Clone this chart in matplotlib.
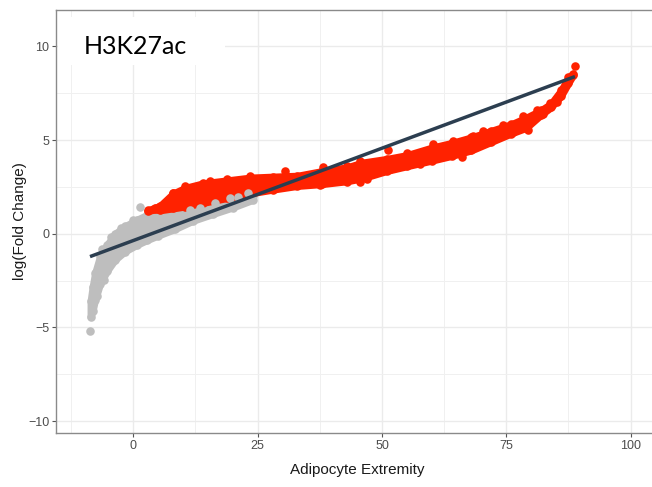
import matplotlib.pyplot as plt
from matplotlib.patches import Rectangle
from matplotlib.ticker import MultipleLocator

# grey cloud (all regions): x, lower / upper edge of point centres
grey_x = [-8.6, -8.2, -7.7, -6.7, -5.3, -3.7, -1.7, 0.7, 2.7, 5.0, 8.4, 12.1, 16.0, 20.0, 24.0]
grey_lo = [-4.45, -4.15, -3.55, -2.7, -2.0, -1.4, -0.95, -0.6, -0.35, -0.1, 0.25, 0.7, 1.05, 1.4, 1.8]
grey_hi = [-3.6, -2.85, -2.1, -1.2, -0.6, 0.0, 0.4, 0.75, 1.0, 1.3, 1.55, 1.75, 1.85, 1.9, 2.0]
grey_pts_x = [-8.7, 1.35, 11.4, 13.5, 16.4, 19.4, 21.0, 23.1, -6.2, -4.4, -2.5, 0.0, 3.5, -7.3, -5.8]
grey_pts_y = [-5.2, 1.45, 1.27, 1.4, 1.62, 1.89, 1.95, 2.16, -0.8, -0.2, 0.3, 0.75, 1.15, -3.3, -2.45]

# red cloud (enriched regions)
red_x = [2.9, 4.4, 5.4, 8.0, 10.4, 14.1, 18.8, 23.5, 28.0, 33.0, 38.0, 43.0, 46.0, 51.0,
         55.0, 60.0, 64.0, 68.0, 72.0, 76.0, 79.0, 82.0, 84.0, 86.0, 87.5, 88.4]
red_lo = [1.2, 1.3, 1.25, 1.35, 1.45, 1.65, 1.9, 2.15, 2.35, 2.55, 2.65, 2.8, 2.95, 3.35,
          3.6, 3.9, 4.15, 4.45, 4.9, 5.35, 5.65, 6.35, 6.75, 7.35, 8.05, 8.45]
red_hi = [1.25, 1.4, 1.5, 2.15, 2.45, 2.7, 2.85, 3.0, 3.05, 3.1, 3.35, 3.55, 3.8, 4.0,
          4.2, 4.6, 4.85, 5.15, 5.5, 5.85, 6.2, 6.6, 6.95, 7.65, 8.35, 8.55]
red_pts_x = [30.5, 38.2, 51.3, 79.4, 88.8, 45.6, 66.0,
             8.0, 10.4, 12.5, 15.4, 17.0, 18.8, 21.0, 23.5, 25.5, 27.0, 33.5, 36.0,
             42.9, 45.6, 48.0, 55.0, 58.0, 60.3, 64.3, 68.4, 70.4, 74.4, 78.4, 81.1, 83.8,
             37.5, 42.9, 47.0, 51.6, 57.6, 63.7, 67.7, 71.7, 76.4, 82.4, 85.1]
red_pts_y = [3.37, 3.58, 4.47, 5.54, 8.95, 2.78, 4.1,
             2.2, 2.55, 2.45, 2.8, 2.7, 2.9, 2.8, 3.08, 2.9, 3.0, 3.0, 3.15,
             3.6, 3.88, 3.75, 4.32, 4.35, 4.77, 4.95, 5.21, 5.48, 5.83, 6.28, 6.63, 6.99,
             2.58, 2.75, 2.9, 3.46, 3.73, 4.18, 4.62, 4.98, 5.42, 6.4, 7.02]

# linear fit
fit_x = [-8.7, 88.8]
fit_y = [-1.22, 8.39]

grey_col = '#BEBEBE'
red_col = '#FF2200'

plt.rcParams['font.family'] = ['Liberation Sans', 'DejaVu Sans']

fig = plt.figure(figsize=(6.52, 4.87), dpi=100)
ax = fig.add_axes([56.2 / 652, 54.3 / 487, 601.8 / 652, 423.2 / 487])
ax.set_xlim(-15.5, 105.5)
ax.set_ylim(-10.62, 11.97)

ax.xaxis.set_major_locator(MultipleLocator(25))
ax.xaxis.set_minor_locator(MultipleLocator(12.5))
ax.yaxis.set_major_locator(MultipleLocator(5))
ax.yaxis.set_minor_locator(MultipleLocator(2.5))
ax.set_axisbelow(True)
ax.grid(which='major', color='#EBEBEB', linewidth=1.0)
ax.grid(which='minor', color='#F0F0F0', linewidth=0.7)
ax.tick_params(which='minor', length=0)
ax.tick_params(which='major', length=3, width=0.8, color='#555555',
               labelcolor='#4D4D4D', labelsize=9, pad=2)
for side in ['left', 'bottom', 'top']:
    ax.spines[side].set_color('#8A8A8A')
    ax.spines[side].set_linewidth(1.0)
ax.spines['right'].set_visible(False)

ms = 38  # point size
ax.fill_between(grey_x, grey_lo, grey_hi, color=grey_col, lw=5, edgecolor=grey_col, zorder=2)
ax.scatter(grey_x + grey_x, grey_lo + grey_hi, s=ms, color=grey_col, lw=0, zorder=2)
ax.scatter(grey_pts_x[8:], grey_pts_y[8:], s=ms, color=grey_col, lw=0, zorder=2)
ax.fill_between(red_x, red_lo, red_hi, color=red_col, lw=5, edgecolor=red_col, zorder=3)
ax.scatter(red_x + red_x, red_lo + red_hi, s=ms, color=red_col, lw=0, zorder=3)
ax.scatter(red_pts_x, red_pts_y, s=ms, color=red_col, lw=0, zorder=3)
ax.scatter(grey_pts_x[:8], grey_pts_y[:8], s=ms, color=grey_col, lw=0, zorder=4)
ax.plot(fit_x, fit_y, color='#2C3E50', lw=2.5, solid_capstyle='butt', zorder=5)

ax.set_xlabel('Adipocyte Extremity', fontsize=11, color='#1A1A1A', labelpad=8)
ax.set_ylabel('log(Fold Change)', fontsize=11, color='#1A1A1A', labelpad=1)

# white title box in the top-left corner
fig.patches.append(Rectangle((58 / 652, 1 - 65 / 487), 167 / 652, 48 / 487,
                             transform=fig.transFigure, facecolor='white',
                             edgecolor='none', zorder=1))
fig.text(84 / 652, 1 - 54.5 / 487, 'H3K27ac', fontsize=18,
         family=['Lato', 'DejaVu Sans'], color='black', zorder=2)

fig.savefig('out.png', dpi=100)
